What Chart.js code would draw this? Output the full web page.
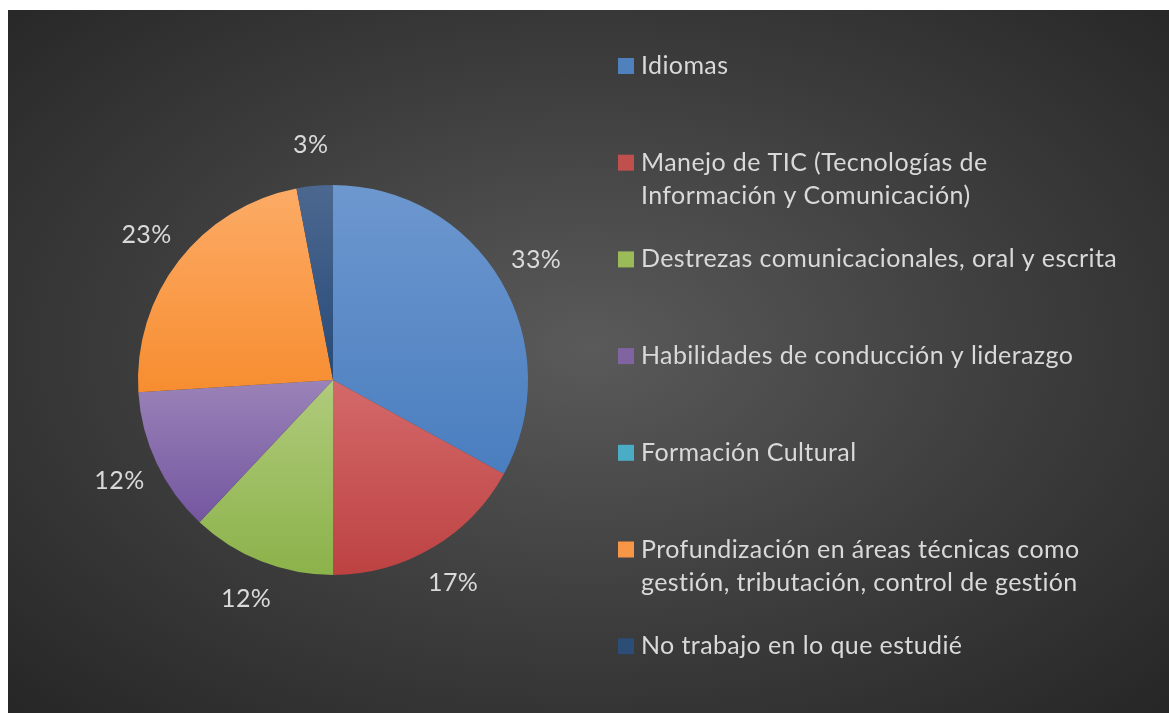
<!DOCTYPE html>
<html>
<head>
<meta charset="utf-8">
<script src="https://cdn.jsdelivr.net/npm/chart.js@4/dist/chart.umd.min.js"></script>
<style>
  html, body { margin: 0; padding: 0; background: #fff; }
  #wrap { position: relative; width: 1169px; height: 713px; }
  #bg {
    position: absolute; left: 8px; top: 10px; width: 1161px; height: 703px;
    background: radial-gradient(ellipse farthest-corner at 50% 48%, #5a5a5a 0%, #3c3c3c 55%, #262626 100%);
  }
  #c { position: absolute; left: 0; top: 0; }
</style>
</head>
<body>
<div id="wrap">
  <div id="bg"></div>
  <canvas id="c" width="1169" height="713"></canvas>
</div>
<script>
// categorias y valores (%)
const labels = [
  'Idiomas',
  ['Manejo de TIC (Tecnologías de', 'Información y Comunicación)'],
  'Destrezas comunicacionales, oral y escrita',
  'Habilidades de conducción y liderazgo',
  'Formación Cultural',
  ['Profundización en áreas técnicas como', 'gestión, tributación, control de gestión'],
  'No trabajo en lo que estudié'
];
const values = [33, 17, 12, 12, 0, 23, 3];
const pctLabels = ['33%', '17%', '12%', '12%', '', '23%', '3%'];

// colores: claro arriba, oscuro abajo
const topColors = ['#6d97cf', '#d4696a', '#b0cb7c', '#9a83b8', '#6fc2d8', '#fcab66', '#4c6890'];
const botColors = ['#4a7ebf', '#bd4242', '#8cb24a', '#7456a0', '#3fa6c2', '#f78d30', '#264a78'];
const mainColors = ['#4f81bd', '#c0504d', '#9bbb59', '#8064a2', '#4bacc6', '#f79646', '#2c4d75'];

const FONT = 'Lato, "Open Sans", sans-serif';
const TXT = '#d9d9d9';

function sliceGradient(ctx) {
  const chart = ctx.chart;
  const ca = chart.chartArea;
  if (!ca) return mainColors[ctx.dataIndex];
  const cx = (ca.left + ca.right) / 2, cy = (ca.top + ca.bottom) / 2;
  const r = Math.min(ca.right - ca.left, ca.bottom - ca.top) / 2;
  const total = values.reduce((a, b) => a + b, 0);
  let before = 0;
  for (let k = 0; k < ctx.dataIndex; k++) before += values[k];
  const a0 = -Math.PI / 2 + 2 * Math.PI * before / total;
  const a1 = a0 + 2 * Math.PI * values[ctx.dataIndex] / total;
  let ymin = cy, ymax = cy;
  for (let s = 0; s <= 40; s++) {
    const a = a0 + (a1 - a0) * s / 40;
    const y = cy + r * Math.sin(a);
    ymin = Math.min(ymin, y); ymax = Math.max(ymax, y);
  }
  if (ymax - ymin < 1) return mainColors[ctx.dataIndex];
  const g = chart.ctx.createLinearGradient(0, ymin, 0, ymax);
  g.addColorStop(0, topColors[ctx.dataIndex]);
  g.addColorStop(1, botColors[ctx.dataIndex]);
  return g;
}

// etiquetas de porcentaje fuera del grafico
const pctPlugin = {
  id: 'pctPlugin',
  afterDatasetsDraw(chart) {
    const c = chart.ctx;
    const meta = chart.getDatasetMeta(0);
    c.save();
    c.font = '25px ' + FONT;
    c.letterSpacing = '0.4px';
    c.fillStyle = TXT;
    c.textAlign = 'center';
    c.textBaseline = 'middle';
    meta.data.forEach((arc, i) => {
      if (!pctLabels[i]) return;
      const mid = (arc.startAngle + arc.endAngle) / 2;
      const rr = arc.outerRadius + 41;
      c.fillText(pctLabels[i], arc.x + rr * Math.cos(mid), arc.y + rr * Math.sin(mid));
    });
    c.restore();
  }
};

// leyenda a la derecha
const legendPlugin = {
  id: 'legendPlugin',
  afterDraw(chart) {
    const c = chart.ctx;
    c.save();
    c.font = '25px ' + FONT;
    c.letterSpacing = '0.4px';
    c.textBaseline = 'middle';
    c.textAlign = 'left';
    labels.forEach((lab, i) => {
      const y = 66 + 96.7 * i;
      c.fillStyle = mainColors[i];
      c.fillRect(618, y - 8, 16, 16);
      c.fillStyle = TXT;
      const lines = Array.isArray(lab) ? lab : [lab];
      lines.forEach((ln, j) => c.fillText(ln, 641, y + j * 33));
    });
    c.restore();
  }
};

const ctx = document.getElementById('c');
new Chart(ctx, {
  type: 'pie',
  data: {
    labels: labels,
    datasets: [{
      data: values,
      backgroundColor: sliceGradient,
      borderWidth: 0
    }]
  },
  options: {
    responsive: false,
    animation: false,
    layout: { padding: { left: 138, right: 641, top: 185, bottom: 138 } },
    plugins: {
      legend: { display: false },
      tooltip: { enabled: false }
    }
  },
  plugins: [pctPlugin, legendPlugin]
});
</script>
</body>
</html>
